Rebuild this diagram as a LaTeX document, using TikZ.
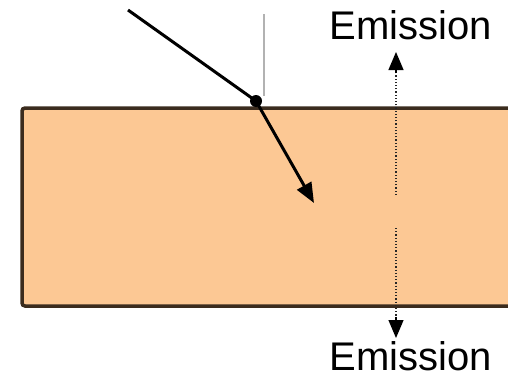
\documentclass[tikz,border=0pt]{standalone}
\usepackage{fontspec}
\setmainfont{Liberation Sans}
\usetikzlibrary{arrows.meta}
\definecolor{slab}{HTML}{FCC894}
\definecolor{edge}{HTML}{3B2C1E}
\tikzset{
  ray/.style={line width=3pt,black},
  tipA/.style={-{Triangle[length=20pt,width=16pt]}},
  emit/.style={line width=1.2pt,dotted,black!85},
  tipE/.style={line width=1.2pt,-{Triangle[length=18pt,width=15pt]}},
  label/.style={font=\fontsize{40}{42}\selectfont,inner sep=0pt,anchor=base}
}
\begin{document}
\begin{tikzpicture}[x=1pt,y=-1pt]
\useasboundingbox (0,0) rectangle (508,381);
\begin{scope}
\clip (0,0) rectangle (508,381);
\draw[fill=slab,draw=edge,line width=3.5pt,rounded corners=3pt] (22,108) rectangle (540,306);
\end{scope}
% normal
\coordinate (n1) at (264,14);
\coordinate (n2) at (264,96);
\draw[gray!60,line width=1.8pt] (n1) -- (n2);
% incident and refracted
\coordinate (src) at (128,10);
\coordinate (hit) at (256,101);
\coordinate (dst) at (314,203);
\draw[ray] (src) -- (hit);
\fill (hit) circle (6);
\draw[ray,tipA] (hit) -- (dst);
% emission
\coordinate (e1) at (396,195);
\coordinate (e2) at (396,52);
\coordinate (e3) at (396,228);
\coordinate (e4) at (396,338);
\draw[emit] (e1) -- (396,72);
\draw[tipE] (396,73) -- (e2);
\draw[emit] (e3) -- (396,318);
\draw[tipE] (396,317) -- (e4);
\node[label] (top) at (411,39) {Emission};
\node[label] (bot) at (411,370) {Emission};
\end{tikzpicture}
\end{document}
